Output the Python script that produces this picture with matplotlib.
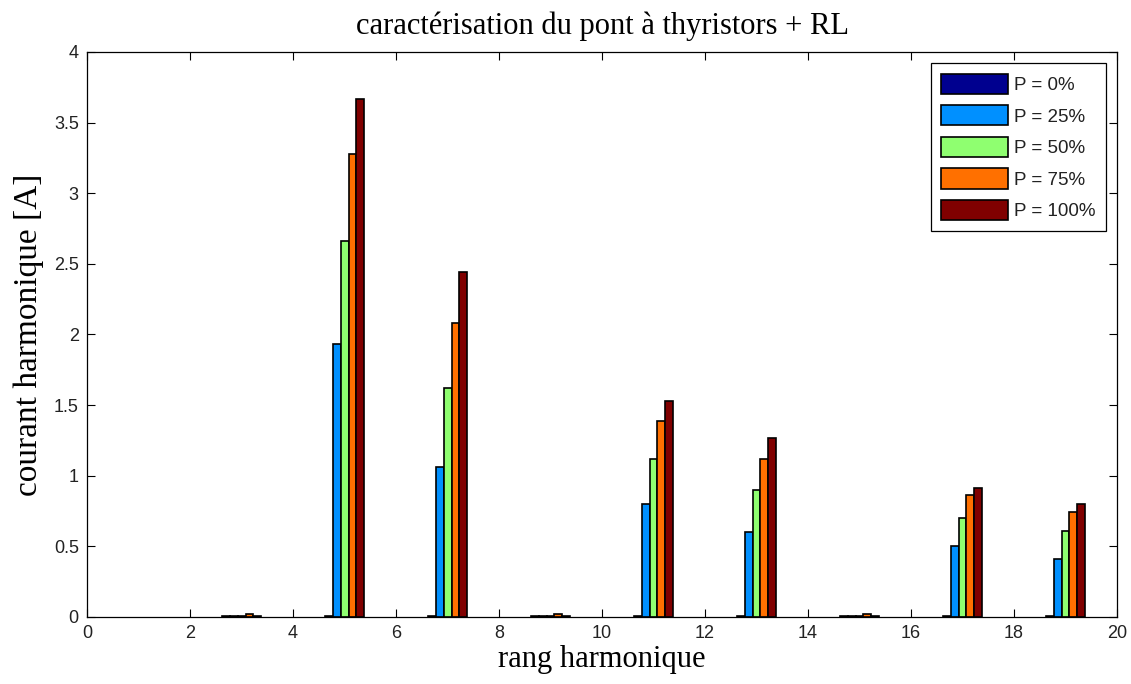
import matplotlib
matplotlib.use("Agg")
import matplotlib.pyplot as plt
import numpy as np

harmonics = [3, 5, 7, 9, 11, 13, 15, 17, 19]
labels = ["P = 0%", "P = 25%", "P = 50%", "P = 75%", "P = 100%"]
p0 = [0.005, 0.005, 0.005, 0.005, 0.005, 0.005, 0.005, 0.005, 0.005]
p25 = [0.005, 1.93, 1.06, 0.005, 0.80, 0.60, 0.005, 0.50, 0.41]
p50 = [0.005, 2.66, 1.62, 0.005, 1.12, 0.90, 0.005, 0.70, 0.61]
p75 = [0.02, 3.28, 2.08, 0.02, 1.39, 1.12, 0.02, 0.86, 0.74]
p100 = [0.005, 3.67, 2.44, 0.005, 1.53, 1.27, 0.005, 0.91, 0.80]
series = [p0, p25, p50, p75, p100]
colors = ["#00008F", "#0090FF", "#8FFF70", "#FF7000", "#800000"]

fig = plt.figure(figsize=(11.31, 6.84), dpi=100)
ax = fig.add_axes([0.077, 0.098, 0.9106, 0.826])

n = len(series)
gw = n / (n + 1.5)
bw = gw / n
x = np.array(harmonics, dtype=float)
for i, (vals, c, lab) in enumerate(zip(series, colors, labels)):
    off = (i - (n - 1) / 2) * bw
    ax.bar(x + off, vals, width=bw, color=c, edgecolor="black", linewidth=1.2, label=lab)

ax.set_xlim(0, 20)
ax.set_ylim(0, 4)
ax.set_xticks(np.arange(0, 21, 2))
ax.set_yticks(np.arange(0, 4.01, 0.5))
ax.set_yticklabels(["0", "0.5", "1", "1.5", "2", "2.5", "3", "3.5", "4"])
ax.tick_params(direction="in", top=True, right=True, length=6, width=0.8,
               labelsize=13, pad=6, colors="black")
for lbl in ax.get_xticklabels() + ax.get_yticklabels():
    lbl.set_fontfamily("Liberation Sans")
    lbl.set_color("#222222")
for s in ax.spines.values():
    s.set_linewidth(0.9)

ax.set_title("caractérisation du pont à thyristors + RL", fontfamily="Liberation Serif",
             fontsize=22, pad=13)
ax.set_xlabel("rang harmonique", fontfamily="Liberation Serif", fontsize=22, labelpad=2)
ax.set_ylabel("courant harmonique [A]", fontfamily="Liberation Serif", fontsize=24, labelpad=7)

leg = ax.legend(loc="upper right", prop={"family": "Liberation Sans", "size": 13.5},
                fancybox=False, edgecolor="black", framealpha=1,
                handlelength=3.57, handleheight=1.28, handletextpad=0.3,
                labelspacing=0.6, borderpad=0.55, borderaxespad=0.6)
leg.get_frame().set_linewidth(0.9)
for t in leg.get_texts():
    t.set_color("#222222")

fig.savefig("out.png", dpi=100, facecolor="white")
